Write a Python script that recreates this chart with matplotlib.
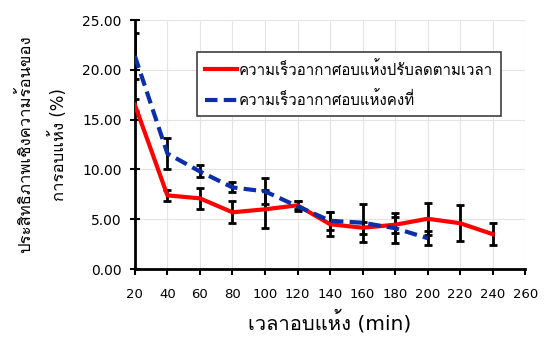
import matplotlib
matplotlib.use('Agg')
import matplotlib.pyplot as plt
from matplotlib import font_manager
from matplotlib.ft2font import FT2Font

# drying time (min)
time_red = [20, 40, 60, 80, 100, 120, 140, 160, 180, 200, 220, 240]
eff_red = [16.5, 7.4, 7.1, 5.7, 6.0, 6.4, 4.5, 4.15, 4.45, 5.05, 4.6, 3.5]
err_red = [0.6, 0.55, 1.05, 1.1, 1.9, 0.4, 1.2, 0.6, 0.8, 1.6, 1.8, 1.1]

time_blue = [20, 40, 60, 80, 100, 120, 140, 160, 180, 200]
eff_blue = [21.4, 11.6, 9.8, 8.2, 7.8, 6.3, 4.85, 4.65, 4.1, 3.1]
err_blue = [2.3, 1.6, 0.6, 0.5, 1.3, 0.5, 0.9, 1.9, 1.5, 0.7]

label_red = 'ความเร็วอากาศอบแห้งปรับลดตามเวลา'
label_blue = 'ความเร็วอากาศอบแห้งคงที่'
xlabel = 'เวลาอบแห้ง (min)'
ylabel = 'ประสิทธิภาพเชิงความร้อนของ\nการอบแห้ง (%)'
xticks = list(range(20, 261, 20))
yticks = [0, 5, 10, 15, 20, 25]


def thai_font():
    # look for any installed font that has Thai glyphs
    for f in font_manager.fontManager.ttflist:
        try:
            if 0x0E01 in FT2Font(f.fname).get_charmap():
                return f.name
        except Exception:
            pass
    return 'DejaVu Sans'


fam = ['DejaVu Sans', thai_font()]
plt.rcParams['font.family'] = fam

fig = plt.figure(figsize=(5.46, 3.41), dpi=100)
ax = fig.add_axes([0.247, 0.211, 0.715, 0.73])

ax.errorbar(time_red, eff_red, yerr=err_red, fmt='none', ecolor='black',
            elinewidth=2, capsize=3, capthick=2, zorder=3)
ax.errorbar(time_blue, eff_blue, yerr=err_blue, fmt='none', ecolor='black',
            elinewidth=2, capsize=3, capthick=2, zorder=3)
ax.plot(time_red, eff_red, color='#ff0000', lw=3, label=label_red, zorder=4)
ax.plot(time_blue, eff_blue, color='#0a2fa8', lw=3, ls=(0, (3, 1.5)),
        label=label_blue, zorder=4)

ax.set_xlim(20, 260)
ax.set_ylim(0, 25)
ax.set_xticks(xticks)
ax.set_yticks(yticks)
ax.set_yticklabels(['%.2f' % v for v in yticks])
ax.grid(True, color='#e4e4e4', lw=0.8)
ax.set_axisbelow(True)

for s in ['top', 'right']:
    ax.spines[s].set_visible(False)
for s in ['left', 'bottom']:
    ax.spines[s].set_linewidth(2)
ax.tick_params(axis='y', direction='inout', length=7, width=1.5, labelsize=10, pad=6)
ax.tick_params(axis='x', direction='out', length=4, width=1.5, labelsize=9.5, pad=10)

ax.set_xlabel(xlabel, fontsize=14.5, labelpad=6)
ax.set_ylabel(ylabel, fontsize=12, labelpad=10, linespacing=2.0)

leg = ax.legend(loc='upper left', bbox_to_anchor=(0.159, 0.87), fontsize=10.8,
                fancybox=False, framealpha=1, edgecolor='#404040',
                handlelength=2.1, handletextpad=0.15, labelspacing=0.9,
                borderpad=0.55, borderaxespad=0)
leg.get_frame().set_linewidth(1.2)

plt.savefig('out.png')
